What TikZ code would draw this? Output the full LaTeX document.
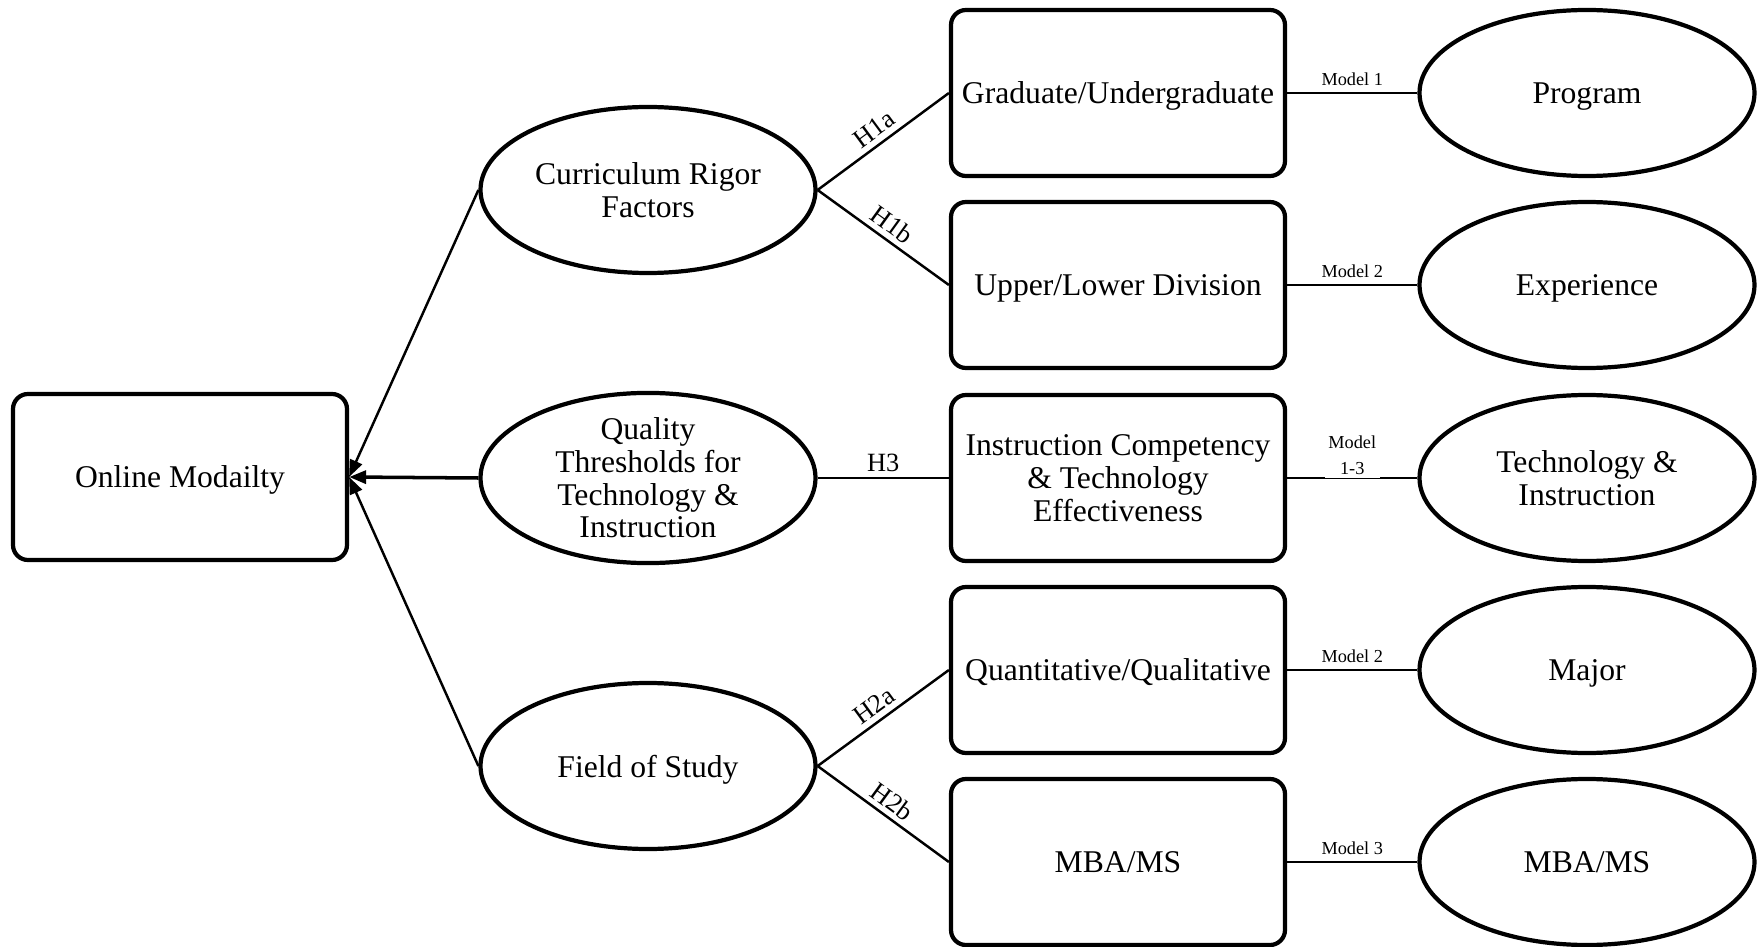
\documentclass[tikz,border=0pt]{standalone}
\usepackage{fontspec}
\setmainfont{Liberation Serif}
\usetikzlibrary{arrows.meta,shapes.geometric}

\begin{document}
\begin{tikzpicture}[y=-1cm,
	txt/.style={align=center, inner sep=0pt, font=\fontsize{9}{9.3}\selectfont},
	box/.style={txt, draw, line width=1.2pt, rounded corners=0.15cm,
		minimum width=3.34cm, minimum height=1.66cm},
	oval/.style={txt, draw, ellipse, line width=1.2pt,
		minimum width=3.35cm, minimum height=1.66cm},
	oneline/.style={text depth=0pt},
	link/.style={line width=0.7pt},
	hyp/.style={font=\fontsize{7.5}{8}\selectfont, sloped, above, inner sep=1.5pt},
	mdl/.style={font=\fontsize{5.2}{7.4}\selectfont, above, inner sep=1.8pt, align=center},
	tip/.style={-{Triangle[length=1.7mm, width=1.3mm]}, line width=0.7pt}]
	
	\useasboundingbox (0,0) rectangle (17.63,9.47);
	
	%% ── outcome ──────────────────────────────────────────────────────────
	\node[box, oneline] (online) at (1.80, 4.77) {Online Modailty};
	
	%% ── factor ellipses ──────────────────────────────────────────────────
	\node[oval] (rigor)   at (6.48, 1.90) {Curriculum Rigor\\Factors};
	\node[oval] (quality) at (6.48, 4.78) {Quality\\Thresholds for\\Technology \&\\Instruction};
	\node[oval, oneline] (field) at (6.48, 7.66) {Field of Study};
	
	%% ── measure boxes ────────────────────────────────────────────────────
	\node[box, oneline] (grad)  at (11.18, 0.93) {Graduate/Undergraduate};
	\node[box, oneline] (div)   at (11.18, 2.85) {Upper/Lower Division};
	\node[box] (instr) at (11.18, 4.78) {Instruction Competency\\\& Technology\\Effectiveness};
	\node[box, oneline] (quant) at (11.18, 6.70) {Quantitative/Qualitative};
	\node[box, oneline] (mba)   at (11.18, 8.62) {MBA/MS};
	
	%% ── variable ellipses ────────────────────────────────────────────────
	\node[oval, oneline] (program) at (15.87, 0.93) {Program};
	\node[oval, oneline] (exper)   at (15.87, 2.85) {Experience};
	\node[oval] (techins) at (15.87, 4.78) {Technology \&\\Instruction};
	\node[oval, oneline] (major)   at (15.87, 6.70) {Major};
	\node[oval, oneline] (mbams)   at (15.87, 8.62) {MBA/MS};
	
	%% ── arrows into the outcome ──────────────────────────────────────────
	\draw[tip] (rigor.west)   -- (online.east);
	\draw[tip, line width=1pt] (quality.west) -- (online.east);
	\draw[tip] (field.west)   -- (online.east);
	
	%% ── hypotheses ───────────────────────────────────────────────────────
	\draw[link] (rigor.east)   -- node[hyp] {H1a} (grad.west);
	\draw[link] (rigor.east)   -- node[hyp] {H1b} (div.west);
	\draw[link] (quality.east) -- node[hyp] {H3}  (instr.west);
	\draw[link] (field.east)   -- node[hyp] {H2a} (quant.west);
	\draw[link] (field.east)   -- node[hyp] {H2b} (mba.west);
	
	%% ── models ───────────────────────────────────────────────────────────
	\draw[link] (grad.east)  -- node[mdl] {Model 1} (program.west);
	\draw[link] (div.east)   -- node[mdl] {Model 2} (exper.west);
	\draw[link] (instr.east) -- node[mdl, above=-0.4pt, fill=white, inner sep=1pt] {Model\\1-3} (techins.west);
	\draw[link] (quant.east) -- node[mdl] {Model 2} (major.west);
	\draw[link] (mba.east)   -- node[mdl] {Model 3} (mbams.west);
	
\end{tikzpicture}
\end{document}
